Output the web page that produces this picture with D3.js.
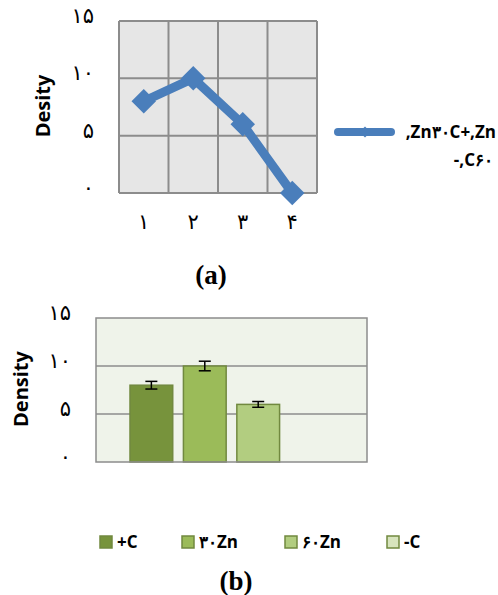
<!DOCTYPE html>
<html>
<head>
<meta charset="utf-8">
<script src="https://cdn.jsdelivr.net/npm/d3@7"></script>
<style>
  body { margin: 0; background: #fff; }
  .lbl { font-family: "Open Sans", Lato, sans-serif; font-weight: bold; fill: #000; }
  .digit { font-family: "DejaVu Sans", sans-serif; fill: #000; }
  .cap { font-family: "Liberation Serif", serif; font-weight: bold; fill: #000; }
</style>
</head>
<body>
<div id="chart"></div>
<script>
// chart (a) data
const lineCats = ["۱", "۲", "۳", "۴"];
const lineValues = [8, 10, 6, 0];
const lineSeriesName = [",Zn۳۰C+,Zn", "-,C۶۰"];
// chart (b) data
const barLabels = ["+C", "۳۰Zn", "۶۰Zn", "-C"];
const barValues = [8, 10, 6, 0];
const barErrors = [0.4, 0.5, 0.3, 0];
const barColors = ["#77933c", "#9bbb59", "#b2cd80", "#d7e4bd"];
// shared y ticks
const yTickValues = [0, 5, 10, 15];
const yTickLabels = ["۰", "۵", "۱۰", "۱۵"];

const width = 498, height = 595;

const svg = d3.select("#chart")
  .append("svg")
  .attr("width", width)
  .attr("height", height);

// ---------- (a) line chart ----------
const a = { left: 119, right: 317, top: 21, bottom: 193 };

const xA = d3.scaleBand().domain(lineCats).range([a.left, a.right]);
const yA = d3.scaleLinear().domain([0, 15]).range([a.bottom, a.top]);

const gA = svg.append("g");

gA.append("rect")
  .attr("x", a.left).attr("y", a.top)
  .attr("width", a.right - a.left).attr("height", a.bottom - a.top)
  .attr("fill", "#e6e6e6");

// horizontal grid
gA.selectAll(".hgrid")
  .data(yTickValues)
  .join("line")
  .attr("x1", a.left).attr("x2", a.right)
  .attr("y1", d => yA(d)).attr("y2", d => yA(d))
  .attr("stroke", "#8c8c8c").attr("stroke-width", 2);

// vertical grid at band edges
gA.selectAll(".vgrid")
  .data(lineCats.map(c => xA(c)).concat([a.right]))
  .join("line")
  .attr("x1", d => d).attr("x2", d => d)
  .attr("y1", a.top).attr("y2", a.bottom)
  .attr("stroke", "#8c8c8c").attr("stroke-width", 2);

// y tick labels
gA.selectAll(".ytick")
  .data(yTickValues)
  .join("text")
  .attr("class", "digit")
  .attr("x", 94)
  .attr("y", d => yA(d) - 4)
  .attr("text-anchor", "end")
  .attr("dominant-baseline", "middle")
  .attr("font-size", 21)
  .text((d, i) => yTickLabels[i]);

// x tick labels
gA.selectAll(".xtick")
  .data(lineCats)
  .join("text")
  .attr("class", "digit")
  .attr("x", d => xA(d) + xA.bandwidth() / 2)
  .attr("y", 223)
  .attr("text-anchor", "middle")
  .attr("dominant-baseline", "middle")
  .attr("font-size", 21)
  .text(d => d);

gA.append("text")
  .attr("class", "lbl")
  .attr("transform", "translate(50,106) rotate(-90)")
  .attr("text-anchor", "middle")
  .attr("font-size", 20)
  .text("Desity");

const line = d3.line()
  .x((d, i) => xA(lineCats[i]) + xA.bandwidth() / 2)
  .y(d => yA(d));

gA.append("path")
  .datum(lineValues)
  .attr("d", line)
  .attr("fill", "none")
  .attr("stroke", "#4a7ebb")
  .attr("stroke-width", 9)
  .attr("stroke-linejoin", "round");

gA.selectAll(".marker")
  .data(lineValues)
  .join("path")
  .attr("d", d3.symbol(d3.symbolSquare, 300)())
  .attr("transform", (d, i) => `translate(${xA(lineCats[i]) + xA.bandwidth() / 2},${yA(d)}) rotate(45)`)
  .attr("fill", "#4a7ebb");

// legend (a)
gA.append("line")
  .attr("x1", 338).attr("x2", 391)
  .attr("y1", 132).attr("y2", 132)
  .attr("stroke", "#4a7ebb").attr("stroke-width", 8)
  .attr("stroke-linecap", "round");
gA.append("path")
  .attr("d", d3.symbol(d3.symbolSquare, 60)())
  .attr("transform", "translate(365,132) rotate(45)")
  .attr("fill", "#4a7ebb");
gA.selectAll(".legA")
  .data(lineSeriesName)
  .join("text")
  .attr("class", "lbl")
  .attr("x", (d, i) => i === 0 ? 496 : 493)
  .attr("y", (d, i) => 133 + i * 28)
  .attr("text-anchor", "end")
  .attr("dominant-baseline", "middle")
  .attr("font-size", 17)
  .text(d => d);

svg.append("text")
  .attr("class", "cap")
  .attr("x", 211).attr("y", 284)
  .attr("text-anchor", "middle")
  .attr("font-size", 27)
  .text("(a)");

// ---------- (b) bar chart ----------
const b = { left: 96, right: 367, top: 318, bottom: 462 };

const xB = d3.scaleBand()
  .domain(barLabels)
  .range([b.left + 34, b.right - 34])
  .paddingInner(0.2)
  .paddingOuter(0);
const yB = d3.scaleLinear().domain([0, 15]).range([b.bottom, b.top]);

const gB = svg.append("g");

gB.append("rect")
  .attr("x", b.left).attr("y", b.top)
  .attr("width", b.right - b.left).attr("height", b.bottom - b.top)
  .attr("fill", "#eff3ea");

gB.selectAll(".hgrid")
  .data(yTickValues.filter(d => d > 0 && d < 15))
  .join("line")
  .attr("x1", b.left).attr("x2", b.right)
  .attr("y1", d => yB(d)).attr("y2", d => yB(d))
  .attr("stroke", "#8c8c8c").attr("stroke-width", 1.5);

gB.selectAll(".bar")
  .data(barValues)
  .join("rect")
  .attr("x", (d, i) => xB(barLabels[i]))
  .attr("y", d => yB(d))
  .attr("width", xB.bandwidth())
  .attr("height", d => b.bottom - yB(d))
  .attr("fill", (d, i) => barColors[i])
  .attr("stroke", "#71893f")
  .attr("stroke-width", 1.5);

// error bars
const eb = gB.selectAll(".err")
  .data(barValues.map((v, i) => ({ v, e: barErrors[i], c: barLabels[i] })).filter(d => d.e > 0))
  .join("g")
  .attr("transform", d => `translate(${xB(d.c) + xB.bandwidth() / 2},0)`);
eb.append("line")
  .attr("y1", d => yB(d.v - d.e)).attr("y2", d => yB(d.v + d.e))
  .attr("stroke", "#000").attr("stroke-width", 1.5);
eb.selectAll(".cap")
  .data(d => [d.v - d.e, d.v + d.e])
  .join("line")
  .attr("x1", -6).attr("x2", 6)
  .attr("y1", d => yB(d)).attr("y2", d => yB(d))
  .attr("stroke", "#000").attr("stroke-width", 1.5);

gB.append("rect")
  .attr("x", b.left).attr("y", b.top)
  .attr("width", b.right - b.left).attr("height", b.bottom - b.top)
  .attr("fill", "none")
  .attr("stroke", "#8c8c8c").attr("stroke-width", 1.5);

gB.selectAll(".ytick")
  .data(yTickValues)
  .join("text")
  .attr("class", "digit")
  .attr("x", 71)
  .attr("y", d => yB(d) - 4)
  .attr("text-anchor", "end")
  .attr("dominant-baseline", "middle")
  .attr("font-size", 21)
  .text((d, i) => yTickLabels[i]);

gB.append("text")
  .attr("class", "lbl")
  .attr("transform", "translate(28,389) rotate(-90)")
  .attr("text-anchor", "middle")
  .attr("font-size", 20)
  .text("Density");

// legend (b)
const legX = [100, 182, 285, 387];
const leg = gB.selectAll(".legB")
  .data(barLabels)
  .join("g")
  .attr("transform", (d, i) => `translate(${legX[i]},542)`);
leg.append("rect")
  .attr("x", 0).attr("y", -6)
  .attr("width", 12).attr("height", 12)
  .attr("fill", (d, i) => barColors[i])
  .attr("stroke", "#71893f").attr("stroke-width", 1.5);
leg.append("text")
  .attr("class", "lbl")
  .attr("x", 17)
  .attr("y", 1)
  .attr("dominant-baseline", "middle")
  .attr("font-size", 17)
  .text(d => d);

svg.append("text")
  .attr("class", "cap")
  .attr("x", 236).attr("y", 590)
  .attr("text-anchor", "middle")
  .attr("font-size", 27)
  .text("(b)");
</script>
</body>
</html>
